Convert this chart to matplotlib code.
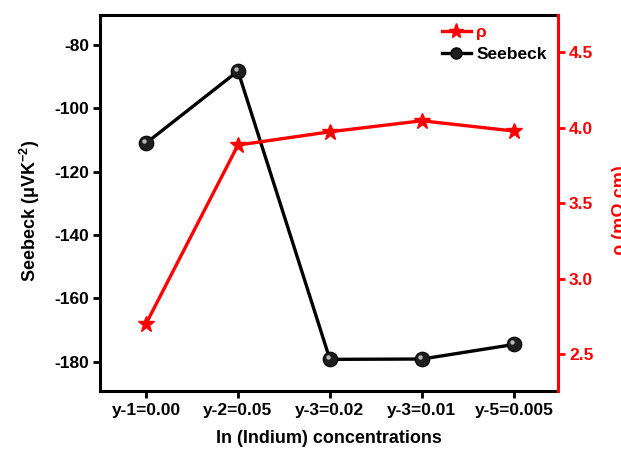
import matplotlib
matplotlib.use("Agg")
import matplotlib.pyplot as plt
from matplotlib.lines import Line2D
from matplotlib.transforms import offset_copy

plt.rcParams['font.family'] = ['Liberation Sans', 'DejaVu Sans']
plt.rcParams['font.weight'] = 'bold'
plt.rcParams['axes.unicode_minus'] = False
plt.rcParams['mathtext.fontset'] = 'custom'
plt.rcParams['mathtext.rm'] = 'Liberation Sans:bold'
plt.rcParams['mathtext.it'] = 'Liberation Sans:bold'
plt.rcParams['mathtext.bf'] = 'Liberation Sans:bold'

categories = ["y-1=0.00", "y-2=0.05", "y-3=0.02", "y-3=0.01", "y-5=0.005"]
seebeck = [-111.0, -88.2, -179.3, -179.2, -174.6]
rho = [2.70, 3.885, 3.973, 4.046, 3.978]
left_ticks = [-80, -100, -120, -140, -160, -180]
right_ticks = [2.5, 3.0, 3.5, 4.0, 4.5]

fig = plt.figure(figsize=(6.21, 4.55), dpi=100)
ax = fig.add_axes([100/621, 1-391/455, 458/621, 376/455])
ax2 = ax.twinx()

x = list(range(len(categories)))

ax.plot(x, seebeck, color='black', lw=2.4, marker='o', ms=10.5,
        mfc='#1e1e1e', mec='black', mew=0.8, zorder=3)
hl = offset_copy(ax.transData, fig=fig, x=-1.6, y=1.6, units='points')
ax.plot(x, seebeck, ls='none', marker='o', ms=3.2, mfc='#b8b8b8',
        mec='none', transform=hl, zorder=4)

ax2.plot(x, rho, color='red', lw=2.4, marker='*', ms=12, mfc='red',
         mec='red', zorder=3)

ax.set_xlim(-0.5, 4.48)
ax.set_ylim(-189.3, -70.5)
ax2.set_ylim(2.255, 4.747)

ax.set_xticks(x)
ax.set_xticklabels(categories)
ax.set_yticks(left_ticks)
ax.set_yticklabels([str(v) for v in left_ticks])
ax2.set_yticks(right_ticks)
ax2.set_yticklabels([f"{v:.1f}" for v in right_ticks])

for a in (ax, ax2):
    for s in a.spines.values():
        s.set_linewidth(2.2)
ax.spines['right'].set_visible(False)
ax2.spines['left'].set_visible(False)
ax2.spines['bottom'].set_visible(False)
ax2.spines['top'].set_visible(False)
ax2.spines['right'].set_color('red')

ax.tick_params(axis='both', direction='out', length=5, width=2,
               labelsize=12.5, pad=4)
ax.tick_params(axis='y', pad=3)
ax2.tick_params(axis='y', direction='out', length=5, width=2,
                labelsize=12.5, colors='red', pad=3)
for lbl in ax.get_xticklabels() + ax.get_yticklabels() + ax2.get_yticklabels():
    lbl.set_fontweight('bold')

ax.set_xlabel("In (Indium) concentrations", fontsize=13, fontweight='bold',
              labelpad=8)
ax.set_ylabel("Seebeck ($\\mu$VK$^{-2}$)", fontsize=13, fontweight='bold')
ax.yaxis.set_label_coords(-0.127, 0.48)
ax2.set_ylabel("ρ (mΩ cm)", fontsize=13, fontweight='bold', color='red')
ax2.yaxis.set_label_coords(1.118, 0.48)

h1 = Line2D([], [], color='red', lw=2.4, marker='*', ms=11, mfc='red', mec='red')
h2 = Line2D([], [], color='black', lw=2.4, marker='o', ms=8, mfc='#1e1e1e', mec='black')
leg = ax2.legend([h1, h2], ["ρ", "Seebeck"], loc='upper right',
                 bbox_to_anchor=(1.01, 1.015), frameon=False, fontsize=12.5,
                 handlelength=1.7, handletextpad=0.3, labelspacing=0.4,
                 borderaxespad=0.5)
for t, c in zip(leg.get_texts(), ['red', 'black']):
    t.set_color(c)
    t.set_fontweight('bold')

fig.savefig("out.png", dpi=100)
